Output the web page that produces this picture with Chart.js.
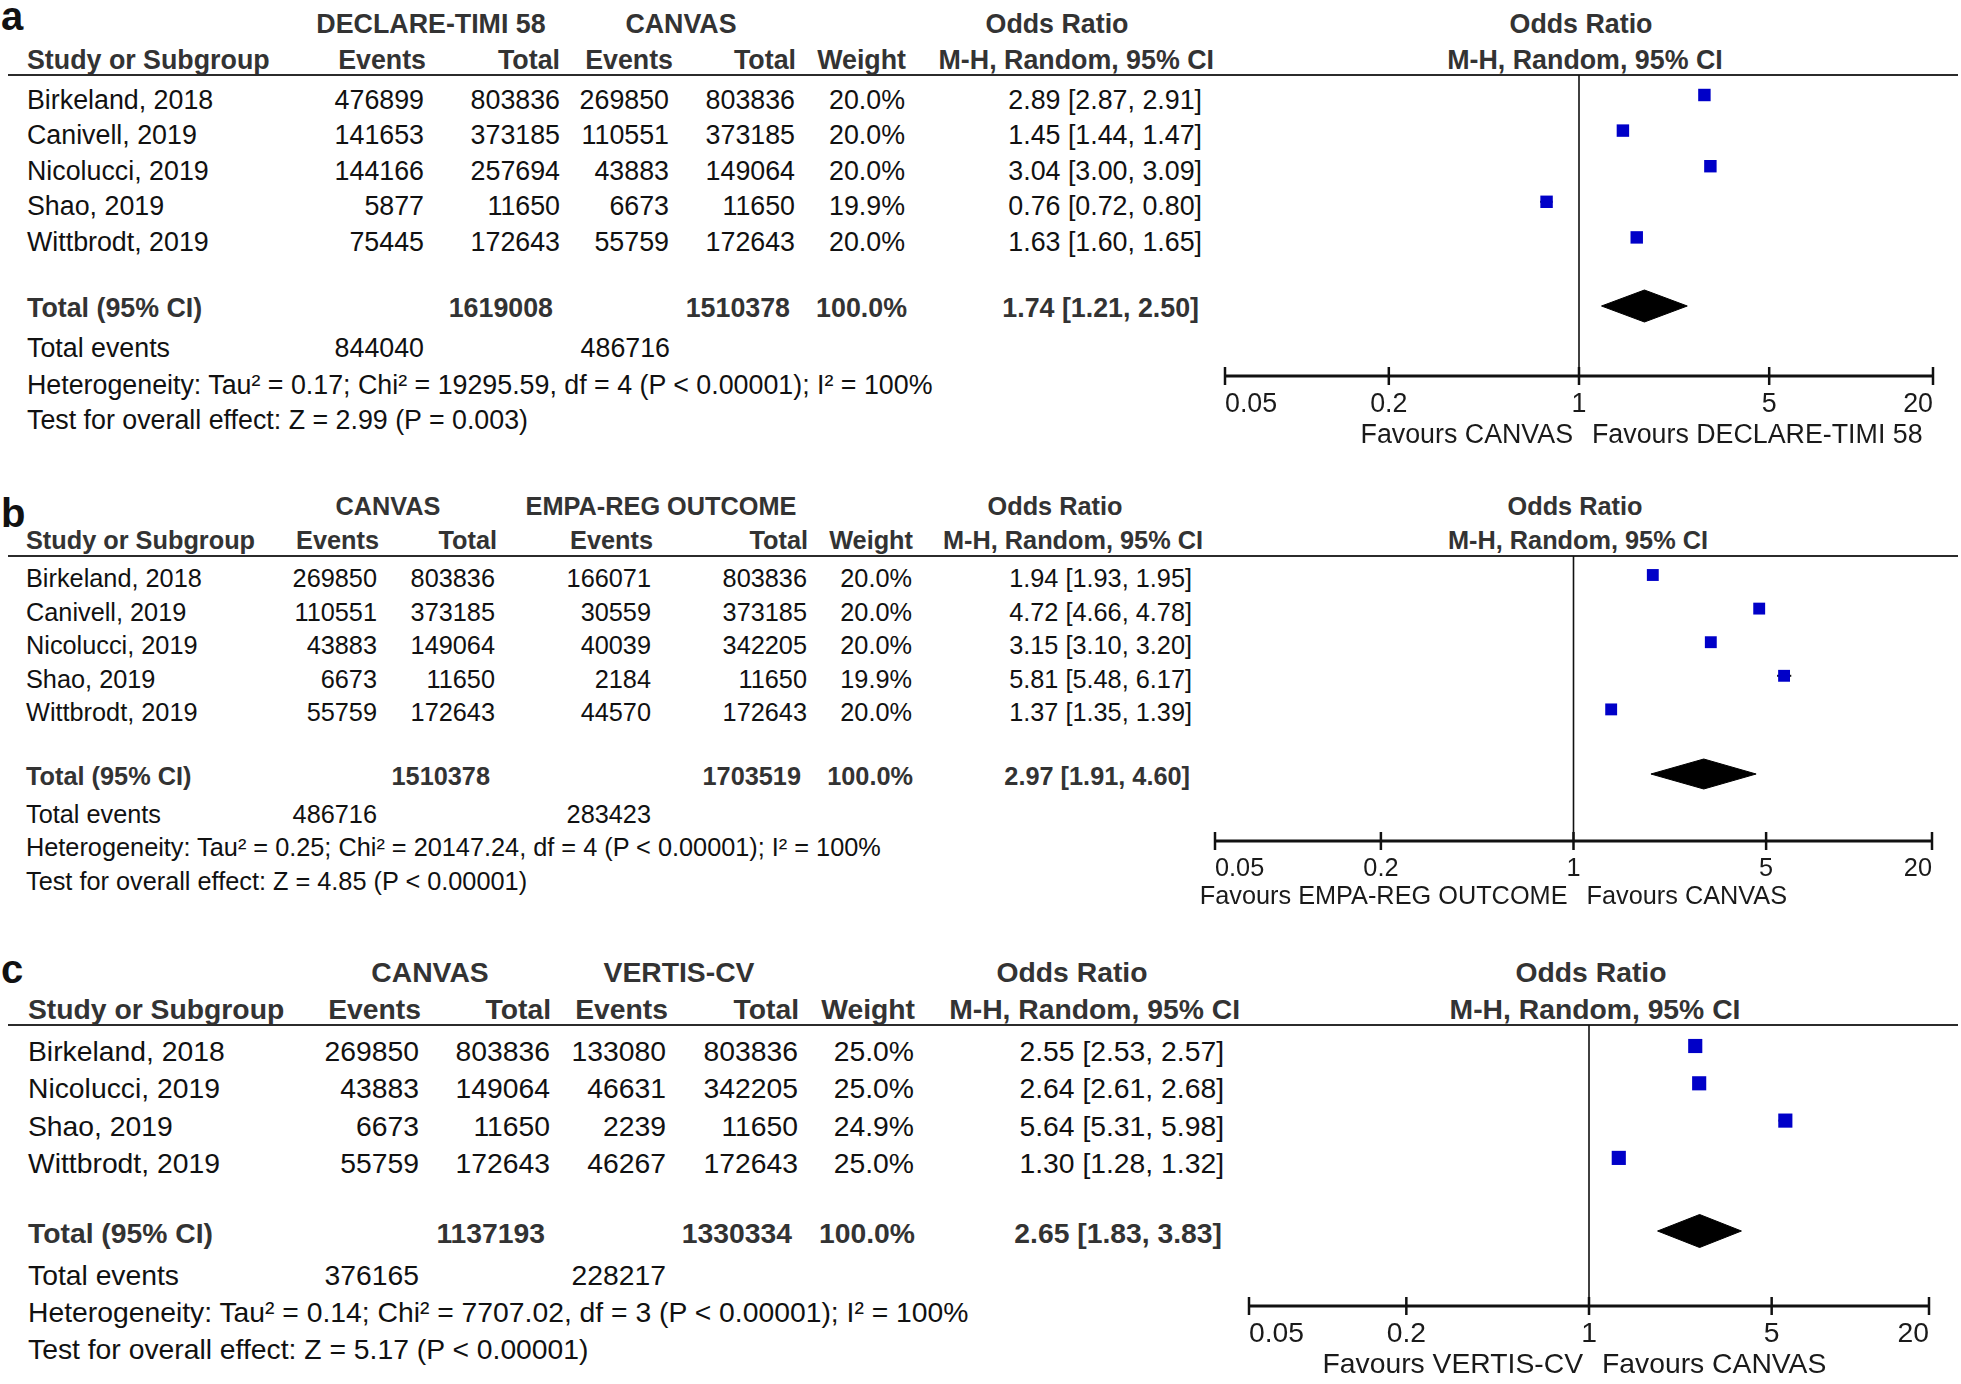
<!DOCTYPE html>
<html>
<head>
<meta charset="utf-8">
<title>Forest plots</title>
<script src="https://cdn.jsdelivr.net/npm/chart.js@4.4.1/dist/chart.umd.min.js"></script>
<style>
  html, body { margin: 0; padding: 0; background: #fff; }
  #page { position: relative; width: 1961px; height: 1384px; overflow: hidden;
          font-family: "Liberation Sans", Arial, Helvetica, sans-serif; }
  .t { position: absolute; line-height: 1; white-space: nowrap; color: #111; }
  .b { font-weight: bold; color: #333; }
  .rule { position: absolute; height: 0; border-top: 2.5px solid #2b2b2b; }
  canvas { position: absolute; }
</style>
</head>
<body>
<div id="page"></div>
<script>
// x axis of every forest plot
const tickValues = [0.05, 0.2, 1, 5, 20];
const tickLabels = ['0.05', '0.2', '1', '5', '20'];

// ---- a: DECLARE-TIMI 58 vs CANVAS
const studiesA = ['Birkeland, 2018', 'Canivell, 2019', 'Nicolucci, 2019', 'Shao, 2019', 'Wittbrodt, 2019'];
const declEventsA = [476899, 141653, 144166, 5877, 75445];
const declTotalA = [803836, 373185, 257694, 11650, 172643];
const canEventsA = [269850, 110551, 43883, 6673, 55759];
const canTotalA = [803836, 373185, 149064, 11650, 172643];
const weightA = [20.0, 20.0, 20.0, 19.9, 20.0];
const orA = [2.89, 1.45, 3.04, 0.76, 1.63];
const loA = [2.87, 1.44, 3.00, 0.72, 1.60];
const hiA = [2.91, 1.47, 3.09, 0.80, 1.65];
const pooledA = [1.74, 1.21, 2.50];
const totalsA = [1619008, 1510378];
const totalEventsA = [844040, 486716];
const hetA = 'Heterogeneity: Tau² = 0.17; Chi² = 19295.59, df = 4 (P < 0.00001); I² = 100%';
const testA = 'Test for overall effect: Z = 2.99 (P = 0.003)';
const favoursA = ['Favours CANVAS', 'Favours DECLARE-TIMI 58'];

// ---- b: CANVAS vs EMPA-REG OUTCOME
const studiesB = ['Birkeland, 2018', 'Canivell, 2019', 'Nicolucci, 2019', 'Shao, 2019', 'Wittbrodt, 2019'];
const canEventsB = [269850, 110551, 43883, 6673, 55759];
const canTotalB = [803836, 373185, 149064, 11650, 172643];
const empaEventsB = [166071, 30559, 40039, 2184, 44570];
const empaTotalB = [803836, 373185, 342205, 11650, 172643];
const weightB = [20.0, 20.0, 20.0, 19.9, 20.0];
const orB = [1.94, 4.72, 3.15, 5.81, 1.37];
const loB = [1.93, 4.66, 3.10, 5.48, 1.35];
const hiB = [1.95, 4.78, 3.20, 6.17, 1.39];
const pooledB = [2.97, 1.91, 4.60];
const totalsB = [1510378, 1703519];
const totalEventsB = [486716, 283423];
const hetB = 'Heterogeneity: Tau² = 0.25; Chi² = 20147.24, df = 4 (P < 0.00001); I² = 100%';
const testB = 'Test for overall effect: Z = 4.85 (P < 0.00001)';
const favoursB = ['Favours EMPA-REG OUTCOME', 'Favours CANVAS'];

// ---- c: CANVAS vs VERTIS-CV
const studiesC = ['Birkeland, 2018', 'Nicolucci, 2019', 'Shao, 2019', 'Wittbrodt, 2019'];
const canEventsC = [269850, 43883, 6673, 55759];
const canTotalC = [803836, 149064, 11650, 172643];
const vertEventsC = [133080, 46631, 2239, 46267];
const vertTotalC = [803836, 342205, 11650, 172643];
const weightC = [25.0, 25.0, 24.9, 25.0];
const orC = [2.55, 2.64, 5.64, 1.30];
const loC = [2.53, 2.61, 5.31, 1.28];
const hiC = [2.57, 2.68, 5.98, 1.32];
const pooledC = [2.65, 1.83, 3.83];
const totalsC = [1137193, 1330334];
const totalEventsC = [376165, 228217];
const hetC = 'Heterogeneity: Tau² = 0.14; Chi² = 7707.02, df = 3 (P < 0.00001); I² = 100%';
const testC = 'Test for overall effect: Z = 5.17 (P < 0.00001)';
const favoursC = ['Favours VERTIS-CV', 'Favours CANVAS'];

// where things sit on the page (pixels)
const layoutA = { font: 26.8, letterBase: 30, head1: 24, head2: 60, line: 75, row0: 99.5, pitch: 35.6,
  totalY: 308, eventsY: 348, hetY: 385, testY: 420, studyX: 27,
  hdrX: [426, 560, 673, 796, 906, 1214], colX: [424, 560, 669, 795], weightX: 905, orX: 1202,
  groupX: [431, 681], orHeadX: 1057, plotHeadX: [1581, 1585], totalX: [553, 790, 907, 1199], eventsX: [424, 670],
  axisY: 376, x0: 1225, x1: 1933, boxDY: -4.5, diamondY: 306, diamondH: 16, boxR: 8.8, tickDY: 26, favDY: 57 };
const layoutB = { font: 25.3, letterBase: 527, head1: 507, head2: 541, line: 556, row0: 579, pitch: 33.6,
  totalY: 777, eventsY: 815, hetY: 848, testY: 882, studyX: 26,
  hdrX: [379, 497, 653, 808, 913, 1203], colX: [377, 495, 651, 807], weightX: 912, orX: 1192,
  groupX: [388, 661], orHeadX: 1055, plotHeadX: [1575, 1578], totalX: [490, 801, 913, 1190], eventsX: [377, 651],
  axisY: 841, x0: 1215, x1: 1932, boxDY: -4, diamondY: 774, diamondH: 15, boxR: 8.4, tickDY: 26, favDY: 54 };
const layoutC = { font: 28.3, letterBase: 983, head1: 972, head2: 1009, line: 1025, row0: 1051, pitch: 37.3,
  totalY: 1233, eventsY: 1275, hetY: 1312, testY: 1349, studyX: 28,
  hdrX: [421, 551, 668, 799, 915, 1240], colX: [419, 550, 666, 798], weightX: 914, orX: 1224,
  groupX: [430, 679], orHeadX: 1072, plotHeadX: [1591, 1595], totalX: [545, 792, 915, 1222], eventsX: [419, 666],
  axisY: 1306, x0: 1249, x1: 1929, boxDY: -5, diamondY: 1231, diamondH: 16.5, boxR: 10, tickDY: 26, favDY: 57 };

const panels = [
  { letter: 'a', groups: ['DECLARE-TIMI 58', 'CANVAS'], studies: studiesA,
    cols: [declEventsA, declTotalA, canEventsA, canTotalA], weight: weightA, or: orA, lo: loA, hi: hiA,
    pooled: pooledA, totals: totalsA, totalEvents: totalEventsA, het: hetA, test: testA, favours: favoursA, lay: layoutA },
  { letter: 'b', groups: ['CANVAS', 'EMPA-REG OUTCOME'], studies: studiesB,
    cols: [canEventsB, canTotalB, empaEventsB, empaTotalB], weight: weightB, or: orB, lo: loB, hi: hiB,
    pooled: pooledB, totals: totalsB, totalEvents: totalEventsB, het: hetB, test: testB, favours: favoursB, lay: layoutB },
  { letter: 'c', groups: ['CANVAS', 'VERTIS-CV'], studies: studiesC,
    cols: [canEventsC, canTotalC, vertEventsC, vertTotalC], weight: weightC, or: orC, lo: loC, hi: hiC,
    pooled: pooledC, totals: totalsC, totalEvents: totalEventsC, het: hetC, test: testC, favours: favoursC, lay: layoutC }
];

const page = document.getElementById('page');
const FONT = '"Liberation Sans", Arial, Helvetica, sans-serif';

function put(text, x, y, size, align, bold) {
  const d = document.createElement('div');
  d.className = bold ? 't b' : 't';
  d.textContent = text;
  const tx = align === 'right' ? '-100%' : (align === 'center' ? '-50%' : '0');
  d.style.left = x + 'px';
  d.style.top = y + 'px';
  d.style.fontSize = size + 'px';
  d.style.transform = `translate(${tx}, -50%)`;
  page.appendChild(d);
}

function fmtCI(v) {
  return `${v[0].toFixed(2)} [${v[1].toFixed(2)}, ${v[2].toFixed(2)}]`;
}

function drawTable(p) {
  const L = p.lay, fs = L.font;

  // panel letter
  const lt = document.createElement('div');
  lt.className = 't';
  lt.textContent = p.letter;
  lt.style.cssText += `left:1px;top:${L.letterBase - 0.8465 * 40}px;font-size:40px;font-weight:bold;`;
  page.appendChild(lt);

  put(p.groups[0], L.groupX[0], L.head1, fs, 'center', true);
  put(p.groups[1], L.groupX[1], L.head1, fs, 'center', true);
  put('Odds Ratio', L.orHeadX, L.head1, fs, 'center', true);
  put('Odds Ratio', L.plotHeadX[0], L.head1, fs, 'center', true);

  put('Study or Subgroup', L.studyX, L.head2, fs, 'left', true);
  ['Events', 'Total', 'Events', 'Total', 'Weight', 'M-H, Random, 95% CI'].forEach((h, i) => {
    put(h, L.hdrX[i], L.head2, fs, 'right', true);
  });
  put('M-H, Random, 95% CI', L.plotHeadX[1], L.head2, fs, 'center', true);

  const rule = document.createElement('div');
  rule.className = 'rule';
  rule.style.left = '8px';
  rule.style.width = '1950px';
  rule.style.top = (L.line - 1.25) + 'px';
  page.appendChild(rule);

  p.studies.forEach((s, i) => {
    const y = L.row0 + i * L.pitch;
    put(s, L.studyX, y, fs, 'left', false);
    p.cols.forEach((col, j) => put(String(col[i]), L.colX[j], y, fs, 'right', false));
    put(p.weight[i].toFixed(1) + '%', L.weightX, y, fs, 'right', false);
    put(fmtCI([p.or[i], p.lo[i], p.hi[i]]), L.orX, y, fs, 'right', false);
  });

  put('Total (95% CI)', L.studyX, L.totalY, fs, 'left', true);
  put(String(p.totals[0]), L.totalX[0], L.totalY, fs, 'right', true);
  put(String(p.totals[1]), L.totalX[1], L.totalY, fs, 'right', true);
  put('100.0%', L.totalX[2], L.totalY, fs, 'right', true);
  put(fmtCI(p.pooled), L.totalX[3], L.totalY, fs, 'right', true);

  put('Total events', L.studyX, L.eventsY, fs, 'left', false);
  put(String(p.totalEvents[0]), L.eventsX[0], L.eventsY, fs, 'right', false);
  put(String(p.totalEvents[1]), L.eventsX[1], L.eventsY, fs, 'right', false);
  put(p.het, L.studyX, L.hetY, fs, 'left', false);
  put(p.test, L.studyX, L.testY, fs, 'left', false);
}

// line of no effect, bottom axis, tick labels and "Favours" captions
const forestAxis = {
  id: 'forestAxis',
  beforeDatasetsDraw(chart, args, o) {
    const { ctx, chartArea } = chart;
    const px = chart.scales.x.getPixelForValue(1);
    ctx.save();
    ctx.strokeStyle = '#111';
    ctx.lineWidth = 1.6;
    ctx.beginPath();
    ctx.moveTo(px, chartArea.top);
    ctx.lineTo(px, chartArea.bottom);
    ctx.stroke();
    ctx.restore();
  },
  afterDraw(chart, args, o) {
    const { ctx, chartArea } = chart;
    const x = chart.scales.x, yb = chartArea.bottom;
    const n = o.ticks.length;
    ctx.save();
    ctx.strokeStyle = '#111';
    ctx.lineWidth = 3;
    ctx.beginPath();
    ctx.moveTo(x.getPixelForValue(o.ticks[0]), yb);
    ctx.lineTo(x.getPixelForValue(o.ticks[n - 1]), yb);
    ctx.stroke();
    ctx.lineWidth = 2.5;
    ctx.fillStyle = '#1a1a1a';
    ctx.font = `${o.size}px ${FONT}`;
    ctx.textBaseline = 'alphabetic';
    const base = 0.358 * o.size;
    o.ticks.forEach((v, i) => {
      const px = x.getPixelForValue(v);
      ctx.beginPath();
      ctx.moveTo(px, yb - 9);
      ctx.lineTo(px, yb + 9);
      ctx.stroke();
      ctx.textAlign = i === 0 ? 'left' : (i === n - 1 ? 'right' : 'center');
      ctx.fillText(o.labels[i], px, yb + o.tickDY + base);
    });
    const p1 = x.getPixelForValue(1);
    ctx.textAlign = 'right';
    ctx.fillText(o.favours[0], p1 - 6, yb + o.favDY + base);
    ctx.textAlign = 'left';
    ctx.fillText(o.favours[1], p1 + 13, yb + o.favDY + base);
    ctx.restore();
  }
};

function drawForest(p) {
  const L = p.lay;
  const padL = 30, padR = 30, padB = 90;
  const cv = document.createElement('canvas');
  cv.width = L.x1 - L.x0 + padL + padR;
  cv.height = L.axisY - L.line + padB;
  cv.style.left = (L.x0 - padL) + 'px';
  cv.style.top = L.line + 'px';
  page.appendChild(cv);

  // y runs in row units: study i sits at i
  const box0 = L.row0 + L.boxDY;
  const yMin = (L.line - box0) / L.pitch;
  const yMax = (L.axisY - box0) / L.pitch;
  const yT = (L.diamondY - box0) / L.pitch;
  const h = L.diamondH / L.pitch;

  const ciSets = p.or.map((v, i) => ({
    type: 'line',
    data: [{ x: p.lo[i], y: i }, { x: p.hi[i], y: i }],
    borderColor: '#111', borderWidth: 2, pointRadius: 0, fill: false
  }));

  new Chart(cv, {
    type: 'scatter',
    data: {
      datasets: [
        {
          data: p.or.map((v, i) => ({ x: v, y: i })),
          pointStyle: 'rect', pointRadius: L.boxR, pointHoverRadius: L.boxR,
          backgroundColor: '#0000c8', borderColor: '#0000c8', borderWidth: 0
        },
        {
          type: 'line',
          data: [
            { x: p.pooled[1], y: yT }, { x: p.pooled[0], y: yT - h },
            { x: p.pooled[2], y: yT }, { x: p.pooled[0], y: yT + h },
            { x: p.pooled[1], y: yT }
          ],
          fill: 'shape', backgroundColor: '#000', borderColor: '#000', borderWidth: 1,
          pointRadius: 0, tension: 0
        },
        ...ciSets
      ]
    },
    options: {
      responsive: false,
      animation: false,
      events: [],
      layout: { autoPadding: false, padding: { left: padL, right: padR, top: 0, bottom: padB } },
      scales: {
        x: { type: 'logarithmic', min: tickValues[0], max: tickValues[tickValues.length - 1], bounds: 'data', display: false },
        y: { type: 'linear', min: yMin, max: yMax, reverse: true, bounds: 'data', display: false }
      },
      plugins: {
        legend: { display: false },
        tooltip: { enabled: false },
        forestAxis: { ticks: tickValues, labels: tickLabels, favours: p.favours,
                      size: L.font, tickDY: L.tickDY, favDY: L.favDY }
      }
    },
    plugins: [forestAxis]
  });
}

panels.forEach(p => {
  drawTable(p);
  drawForest(p);
});
</script>
</body>
</html>
